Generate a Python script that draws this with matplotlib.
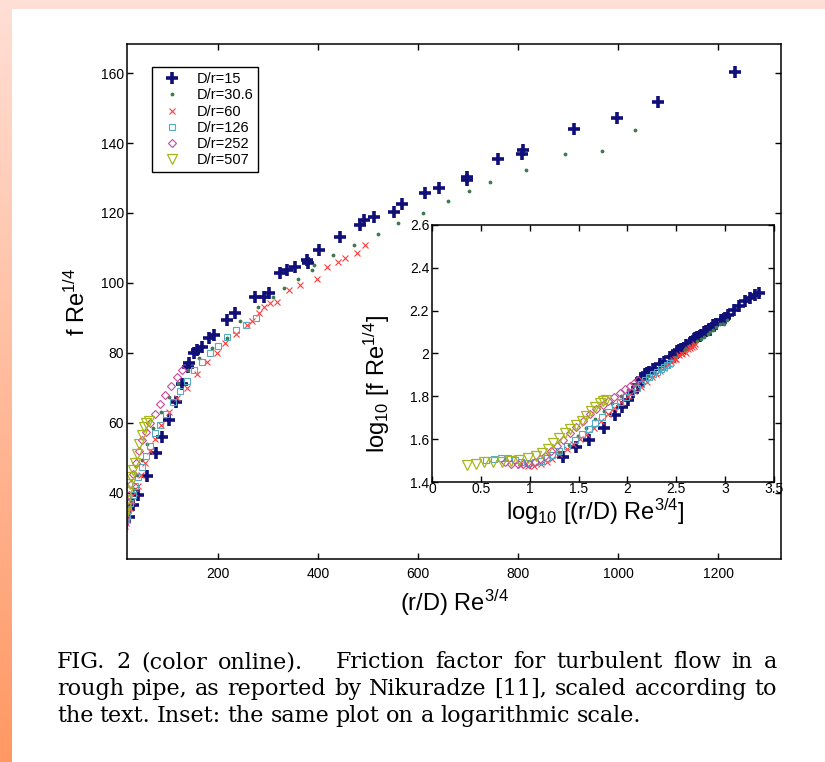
import numpy as np
import matplotlib
matplotlib.use("Agg")
import matplotlib.pyplot as plt

plt.rcParams['font.family'] = ['Liberation Sans', 'DejaVu Sans']
plt.rcParams['mathtext.fontset'] = 'custom'
plt.rcParams['mathtext.rm'] = 'Liberation Sans'
plt.rcParams['mathtext.it'] = 'Liberation Sans'

# data: x = (r/D) Re^(3/4), y = f Re^(1/4)
labels = ['D/r=15', 'D/r=30.6', 'D/r=60', 'D/r=126', 'D/r=252', 'D/r=507']

x15 = [22, 30, 40, 57, 75, 88, 101, 115, 127, 139, 141, 151, 157, 167, 181, 191,
       217, 234, 274, 291, 301, 324, 337, 354, 377, 380, 401, 443, 484, 491, 511,
       551, 567, 613, 641, 697, 697, 759, 807, 809, 911, 997, 1079, 1233, 1400,
       1600, 1800, 2000, 2240]
y15 = [33.0, 36.5, 39.5, 44.7, 51.5, 56.0, 60.9, 66.0, 71.0, 76.1, 77.1, 79.9,
       80.9, 81.8, 84.2, 85.1, 89.4, 91.3, 96.1, 96.1, 97.1, 102.8, 103.7, 104.7,
       106.6, 105.8, 109.4, 113.2, 116.6, 118.0, 118.8, 120.4, 122.5, 125.6,
       127.2, 129.4, 130.4, 135.3, 136.9, 138.0, 143.9, 147.2, 151.7, 160.2,
       167.0, 175.0, 182.0, 188.0, 192.0]

x30 = [20, 25, 31, 38, 47, 58, 70, 85, 102, 120, 140, 162, 187, 217, 244, 280,
       310, 331, 360, 387, 391, 430, 471, 520, 560, 610, 660, 701, 743, 815, 893,
       967, 1033]
y30 = [34.5, 37.5, 41.0, 45.0, 49.5, 54.0, 58.5, 63.0, 67.5, 71.5, 75.0, 78.5,
       81.5, 84.2, 89.0, 93.0, 96.0, 98.5, 101.0, 103.7, 105.1, 108.0, 110.9,
       114.0, 117.0, 120.0, 123.5, 126.4, 128.9, 132.3, 137.0, 137.7, 143.7]

x60 = [8, 9.5, 11, 13, 15, 17, 20, 24, 28, 33, 39, 46, 54, 63, 73, 86, 101, 118,
       137, 158, 178, 197, 214, 235, 257, 267, 281, 291, 304, 317, 341, 364, 397,
       417, 440, 454, 477, 494]
y60 = [30.0, 29.8, 29.9, 30.5, 31.3, 32.3, 33.8, 35.8, 37.8, 40.0, 42.0, 45.0,
       48.5, 52.0, 55.5, 59.5, 63.2, 67.0, 69.9, 74.0, 77.5, 79.9, 82.8, 85.5,
       88.0, 89.0, 91.3, 93.2, 94.2, 94.7, 98.0, 99.4, 101.0, 104.7, 106.0,
       107.0, 108.5, 110.9]

x126 = [3.6, 4.3, 5.1, 6.0, 7.0, 8.2, 9.6, 11.2, 13, 15, 17, 20, 24, 29, 34, 40,
        47, 55, 64, 74, 84, 96, 110, 124, 138, 152, 167, 183, 200, 218, 236, 255,
        275]
y126 = [31.8, 32.3, 32.6, 32.4, 31.8, 31.2, 30.9, 31.0, 31.6, 32.4, 33.4, 35.0,
        37.0, 39.5, 42.0, 44.5, 47.5, 50.5, 53.5, 57.0, 59.5, 62.5, 66.0, 69.0,
        72.0, 75.0, 77.5, 80.0, 82.0, 84.5, 86.5, 88.0, 90.0]

x252 = [5.6, 6.5, 7.5, 8.6, 9.8, 11.2, 12.8, 14.5, 16.5, 19, 22, 26, 30, 35, 41,
        48, 56, 64, 73, 83, 94, 106, 118, 128]
y252 = [31.0, 30.6, 30.4, 30.4, 30.6, 31.2, 32.0, 33.2, 35.0, 37.0, 39.5, 42.5,
        45.5, 48.5, 52.0, 55.0, 57.5, 60.0, 62.5, 65.5, 68.0, 70.5, 73.0, 75.0]

x507 = [2.3, 2.8, 3.4, 4.2, 5.2, 6.4, 7.8, 9.5, 11.5, 13.5, 15.5, 17.5, 20, 23,
        26, 30, 34, 38, 42, 47, 52, 56, 61]
y507 = [30.0, 30.6, 31.0, 31.2, 31.3, 31.5, 31.8, 32.4, 33.2, 34.3, 35.8, 38.0,
        40.2, 42.5, 44.5, 46.5, 48.5, 51.0, 54.0, 56.5, 58.8, 60.0, 60.5]

series = [(x15, y15), (x30, y30), (x60, y60), (x126, y126), (x252, y252), (x507, y507)]
styles = [
    dict(marker='+', color='#101078', ms=8, mew=2.6),
    dict(marker='.', color='#3f7a52', ms=3.5),
    dict(marker='x', color='#ff3b3b', ms=5, mew=0.8),
    dict(marker='s', color='#55aac4', ms=5, mew=0.8, mfc='none'),
    dict(marker='D', color='#c8489c', ms=4.5, mew=0.8, mfc='none'),
    dict(marker='v', color='#a6b61c', ms=6.5, mew=0.9, mfc='none'),
]

caption = ["FIG. 2 (color online).   Friction factor for turbulent flow in a",
           "rough pipe, as reported by Nikuradze [11], scaled according to",
           "the text. Inset: the same plot on a logarithmic scale."]

W, H = 825, 762
fig = plt.figure(figsize=(W / 100, H / 100), dpi=100)

# slide decoration: light top band and orange gradient along the left edge
bg = fig.add_axes([0, 0, 1, 1], zorder=-10)
bg.set_xlim(0, W)
bg.set_ylim(H, 0)
bg.axis('off')
top = np.array([255, 223, 213]) / 255
bot = np.array([255, 152, 100]) / 255
t = np.linspace(0, 1, 200)[:, None]
grad = (top * (1 - t) + bot * t)[:, None, :]
bg.imshow(grad, extent=(0, 12, H, 0), aspect='auto')
bg.add_patch(plt.Rectangle((0, 0), W, 9, color=top, lw=0))


def style_axes(ax, size):
    ax.tick_params(direction='in', top=True, right=True, length=4, width=1,
                   labelsize=size)
    for s in ax.spines.values():
        s.set_linewidth(1.1)


ax = fig.add_axes([127 / W, 1 - 559 / H, 654 / W, 515 / H])
for (xs, ys), st, lab in zip(series, styles, labels):
    ax.plot(xs, ys, ls='none', label=lab, **st)
ax.set_xlim(18, 1326)
ax.set_ylim(21.1, 168.3)
ax.set_xticks([200, 400, 600, 800, 1000, 1200])
ax.set_yticks([40, 60, 80, 100, 120, 140, 160])
style_axes(ax, 10)
ax.tick_params(axis='x', pad=6)
ax.tick_params(axis='y', pad=2)
ax.set_xlabel(r'(r/D) Re$^{3/4}$', fontsize=17)
ax.set_ylabel(r'f Re$^{1/4}$', fontsize=17)
ax.xaxis.set_label_coords(0.5, -0.056)
ax.yaxis.set_label_coords(-0.057, 0.5)
leg = ax.legend(loc='upper left', bbox_to_anchor=(0.038, 0.955), borderaxespad=0,
                fancybox=False, framealpha=1, edgecolor='black', fontsize=10.5,
                labelspacing=0.15, handletextpad=0.7, handlelength=2.0,
                borderpad=0.35, numpoints=1)
leg.get_frame().set_linewidth(1)

ins = fig.add_axes([432 / W, 1 - 482 / H, 342 / W, 257 / H])
for (xs, ys), st in zip(series, styles):
    ins.plot(np.log10(xs), np.log10(ys), ls='none', **st)
ins.set_xlim(0, 3.5)
ins.set_ylim(1.4, 2.6)
ins.set_xticks(np.arange(0, 3.51, 0.5))
ins.set_xticklabels(['0', '0.5', '1', '1.5', '2', '2.5', '3', '3.5'])
ins.set_yticks(np.arange(1.4, 2.61, 0.2))
ins.set_yticklabels(['1.4', '1.6', '1.8', '2', '2.2', '2.4', '2.6'])
style_axes(ins, 10)
ins.tick_params(axis='x', pad=0)
ins.tick_params(axis='y', pad=2)
ins.set_xlabel(r'log$_{10}$ [(r/D) Re$^{3/4}$]', fontsize=17)
ins.set_ylabel(r'log$_{10}$ [f Re$^{1/4}$]', fontsize=17)
ins.xaxis.set_label_coords(0.477, -0.058)
ins.yaxis.set_label_coords(-0.117, 0.38)

# justified caption in a serif face
renderer = fig.canvas.get_renderer()
left_px, right_px = 57, 777
baselines = [668, 695, 722]
for i, line in enumerate(caption):
    words = line.split(' ')
    objs = [fig.text(0, 0, w, fontsize=16, family='DejaVu Serif',
                     va='baseline') for w in words]
    widths = [o.get_window_extent(renderer).width if w else 0
              for o, w in zip(objs, words)]
    if i < len(caption) - 1:
        gap = (right_px - left_px - sum(widths)) / (len(words) - 1)
    else:
        gap = 6.5
    xpos = left_px
    for o, w in zip(objs, widths):
        o.set_position((xpos / W, 1 - baselines[i] / H))
        xpos += w + gap

fig.savefig('out.png', dpi=100)
